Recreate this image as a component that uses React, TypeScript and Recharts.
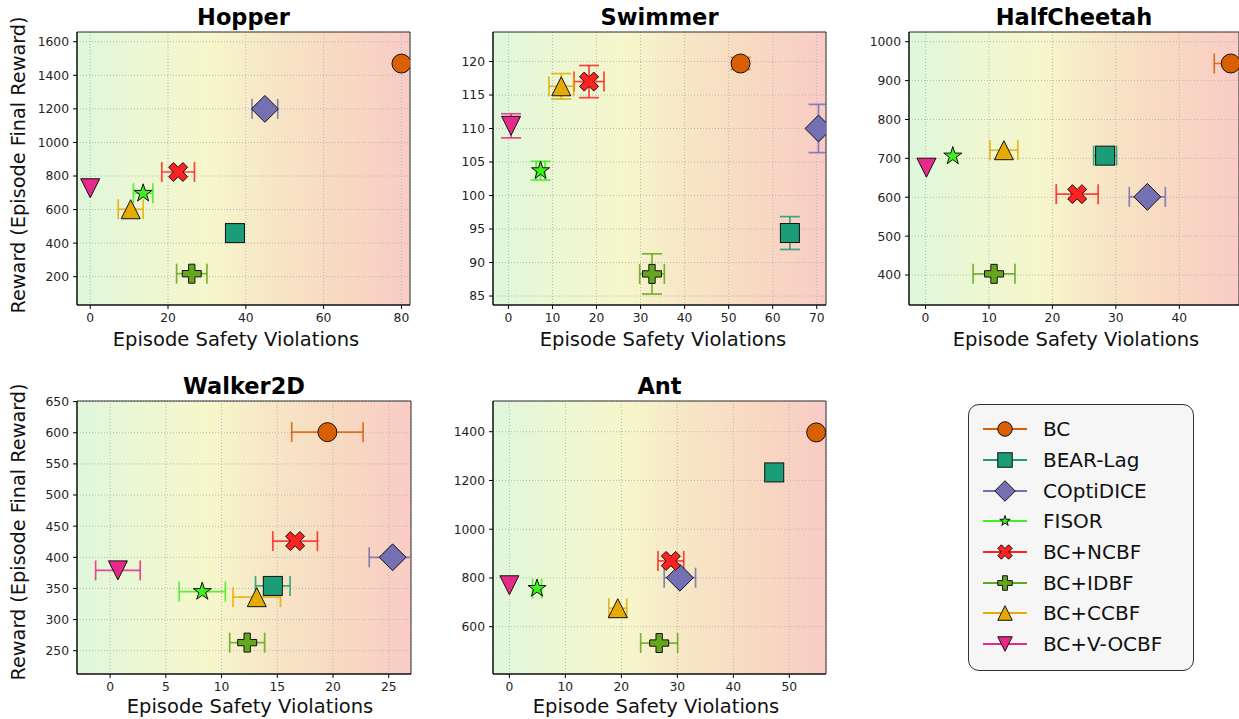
import React from 'react';
import { ScatterChart, Scatter, XAxis, YAxis, CartesianGrid, ErrorBar, ReferenceArea } from 'recharts';

const FONT = '"DejaVu Sans", sans-serif';

const methods = ['BC', 'BEAR-Lag', 'COptiDICE', 'FISOR', 'BC+NCBF', 'BC+IDBF', 'BC+CCBF', 'BC+V-OCBF'];
const colors = ['#d95f02', '#1b9e77', '#7570b3', '#3ef01e', '#ff2222', '#66a61e', '#e6ab02', '#e7298a'];
const shapes = ['circle', 'square', 'diamond', 'star', 'x', 'plus', 'triUp', 'triDown'];

// Hopper
const hopperX = [80.0, 37.2, 44.9, 13.6, 22.6, 26.1, 10.4, 0.0];
const hopperY = [1470, 460, 1200, 697, 824, 218, 602, 727];
const hopperXErr = [0, 0, 3.3, 2.5, 4.2, 3.9, 3.2, 0];
const hopperYErr = [0, 0, 0, 0, 0, 0, 0, 0];
const hopperXTicks = [0, 20, 40, 60, 80];
const hopperYTicks = [200, 400, 600, 800, 1000, 1200, 1400, 1600];

// Swimmer
const swimmerX = [52.7, 63.9, 70.4, 7.3, 18.3, 32.6, 12.0, 0.6];
const swimmerY = [119.7, 94.4, 110.0, 103.7, 117.0, 88.3, 116.3, 110.4];
const swimmerXErr = [0, 1.2, 0, 1.0, 3.4, 2.8, 2.8, 0];
const swimmerYErr = [0.9, 2.45, 3.6, 1.4, 2.4, 3.0, 1.9, 1.8];
const swimmerXTicks = [0, 10, 20, 30, 40, 50, 60, 70];
const swimmerYTicks = [85, 90, 95, 100, 105, 110, 115, 120];

// HalfCheetah
const cheetahX = [48.1, 28.3, 34.95, 4.3, 23.9, 10.8, 12.35, 0.15];
const cheetahY = [944, 707, 601, 706, 608, 403, 721, 676];
const cheetahXErr = [2.6, 1.8, 2.84, 0, 3.3, 3.3, 2.2, 0];
const cheetahYErr = [0, 0, 0, 0, 0, 0, 0, 0];
const cheetahXTicks = [0, 10, 20, 30, 40];
const cheetahYTicks = [400, 500, 600, 700, 800, 900, 1000];

// Walker2D
const walkerX = [19.5, 14.6, 25.35, 8.27, 16.6, 12.3, 13.16, 0.7];
const walkerY = [601, 354, 400, 345, 426, 263, 336, 379];
const walkerXErr = [3.2, 1.55, 2.1, 2.07, 2.0, 1.57, 2.13, 2.0];
const walkerYErr = [0, 0, 0, 0, 0, 0, 0, 0];
const walkerXTicks = [0, 5, 10, 15, 20, 25];
const walkerYTicks = [250, 300, 350, 400, 450, 500, 550, 600, 650];

// Ant
const antX = [54.8, 47.3, 30.45, 4.94, 28.84, 26.75, 19.36, 0.0];
const antY = [1397, 1233, 801, 757, 870, 533, 676, 770];
const antXErr = [0, 0, 2.8, 0.8, 2.3, 3.3, 1.6, 0];
const antYErr = [0, 0, 0, 0, 0, 0, 0, 0];
const antXTicks = [0, 10, 20, 30, 40, 50];
const antYTicks = [600, 800, 1000, 1200, 1400];

const bgStops = [
  { o: 0, c: '#dff7dc' },
  { o: 0.2, c: '#ecf7d2' },
  { o: 0.4, c: '#f6f6cb' },
  { o: 0.6, c: '#f7e5c5' },
  { o: 0.8, c: '#f8d8c1' },
  { o: 1, c: '#f9ccc6' },
];

type Cfg = {
  title: string;
  plot: number[];
  xDomain: number[];
  yDomain: number[];
  xTicks: number[];
  yTicks: number[];
  xs: number[];
  ys: number[];
  xe: number[];
  ye: number[];
  xLabelX: number;
  xLabelY: number;
};

const panels: Cfg[] = [
  { title: 'Hopper', plot: [77, 32, 410, 305], xDomain: [-3.4, 82.2], yDomain: [31.5, 1658], xTicks: hopperXTicks, yTicks: hopperYTicks, xs: hopperX, ys: hopperY, xe: hopperXErr, ye: hopperYErr, xLabelX: 236, xLabelY: 340 },
  { title: 'Swimmer', plot: [493, 32, 826, 305], xDomain: [-3.5, 72.1], yDomain: [83.66, 124.4], xTicks: swimmerXTicks, yTicks: swimmerYTicks, xs: swimmerX, ys: swimmerY, xe: swimmerXErr, ye: swimmerYErr, xLabelX: 663, xLabelY: 340 },
  { title: 'HalfCheetah', plot: [909, 32, 1239, 305], xDomain: [-2.6, 49.4], yDomain: [322.9, 1025], xTicks: cheetahXTicks, yTicks: cheetahYTicks, xs: cheetahX, ys: cheetahY, xe: cheetahXErr, ye: cheetahYErr, xLabelX: 1076, xLabelY: 340 },
  { title: 'Walker2D', plot: [77, 401, 411, 674], xDomain: [-2.97, 27.0], yDomain: [212.6, 651], xTicks: walkerXTicks, yTicks: walkerYTicks, xs: walkerX, ys: walkerY, xe: walkerXErr, ye: walkerYErr, xLabelX: 250, xLabelY: 706.5 },
  { title: 'Ant', plot: [493, 401, 826, 674], xDomain: [-2.93, 56.55], yDomain: [406, 1526], xTicks: antXTicks, yTicks: antYTicks, xs: antX, ys: antY, xe: antXErr, ye: antYErr, xLabelX: 656, xLabelY: 706.5 },
];

function MarkerShape({ kind, cx, cy, s, fill, clip }: { kind: string; cx: number; cy: number; s: number; fill: string; clip?: string }) {
  const h = s / 2;
  const common: any = { fill, stroke: '#111', strokeWidth: 1, strokeLinejoin: 'miter' };
  if (clip) common.clipPath = clip;
  const poly = (pts: number[][]) => pts.map((p) => `${cx + p[0]},${cy + p[1]}`).join(' ');
  switch (kind) {
    case 'circle':
      return <circle cx={cx} cy={cy} r={h} {...common} />;
    case 'square':
      return <rect x={cx - h} y={cy - h} width={s} height={s} {...common} />;
    case 'diamond': {
      const d = s * 0.707;
      return <polygon points={poly([[0, -d], [d, 0], [0, d], [-d, 0]])} {...common} />;
    }
    case 'star': {
      const pts: number[][] = [];
      for (let k = 0; k < 10; k++) {
        const r = k % 2 === 0 ? h : h * 0.381966;
        const a = (-90 + k * 36) * (Math.PI / 180);
        pts.push([r * Math.cos(a), r * Math.sin(a)]);
      }
      return <polygon points={poly(pts)} {...common} />;
    }
    case 'plus':
    case 'x': {
      const base = [[-1, -3], [1, -3], [1, -1], [3, -1], [3, 1], [1, 1], [1, 3], [-1, 3], [-1, 1], [-3, 1], [-3, -1], [-1, -1]];
      const u = s / 6;
      let pts = base.map((p) => [p[0] * u, p[1] * u]);
      if (kind === 'x') {
        const c = Math.SQRT1_2;
        pts = pts.map((p) => [(p[0] - p[1]) * c * 1.06, (p[0] + p[1]) * c * 1.06]);
      }
      return <polygon points={poly(pts)} {...common} />;
    }
    case 'triUp':
      return <polygon points={poly([[0, -h], [-h, h], [h, h]])} {...common} />;
    case 'triDown':
      return <polygon points={poly([[0, h], [-h, -h], [h, -h]])} {...common} />;
    default:
      return null;
  }
}

const ML = 60, MT = 10, MR = 10, MB = 30, YW = 50, XH = 25;

function Panel({ cfg, idx }: { cfg: Cfg; idx: number }) {
  const [px0, py0, px1, py1] = cfg.plot;
  const left = px0 - ML;
  const top = py0 - MT;
  const width = px1 - px0 + ML + MR;
  const height = py1 - py0 + MT + MB;
  const gid = `bggrad${idx}`;
  const cid = `plotclip${idx}`;
  const clip = `url(#${cid})`;
  const tickStyle = { fill: '#222', fontSize: 12.3, fontFamily: FONT };
  return (
    <>
      <div style={{ position: 'absolute', left, top, width, height }}>
        <ScatterChart width={width} height={height} margin={{ left: ML - YW, top: MT, right: MR, bottom: MB - XH }}>
          <defs>
            <linearGradient id={gid} x1="0" y1="0" x2="1" y2="0">
              {bgStops.map((st) => (
                <stop key={st.o} offset={st.o} stopColor={st.c} />
              ))}
            </linearGradient>
            <clipPath id={cid}>
              <rect x={ML} y={MT} width={px1 - px0} height={py1 - py0} />
            </clipPath>
          </defs>
          <CartesianGrid fill={`url(#${gid})`} fillOpacity={1} stroke="#b8b8b8" strokeDasharray="1 2" strokeWidth={1} />
          <XAxis
            type="number"
            dataKey="x"
            domain={cfg.xDomain}
            ticks={cfg.xTicks}
            interval={0}
            allowDataOverflow
            height={XH}
            tickSize={4}
            tickMargin={4}
            stroke="#000"
            tick={tickStyle}
          />
          <YAxis
            type="number"
            dataKey="y"
            domain={cfg.yDomain}
            ticks={cfg.yTicks}
            interval={0}
            allowDataOverflow
            width={YW}
            tickSize={4}
            tickMargin={4}
            stroke="#000"
            tick={tickStyle}
          />
          <ReferenceArea x1={cfg.xDomain[0]} x2={cfg.xDomain[1]} y1={cfg.yDomain[0]} y2={cfg.yDomain[1]} fill="none" fillOpacity={0} stroke="#333" strokeWidth={1} />
          {methods.map((m, i) => (
            <Scatter
              key={m}
              name={m}
              data={[{ x: cfg.xs[i], y: cfg.ys[i], xerr: cfg.xe[i], yerr: cfg.ye[i] }]}
              fill={colors[i]}
              isAnimationActive={false}
              shape={(p: any) => <MarkerShape kind={shapes[i]} cx={p.cx} cy={p.cy} s={19} fill={colors[i]} clip={clip} />}
            >
              {cfg.xe[i] > 0 && <ErrorBar dataKey="xerr" direction="x" width={10} stroke={colors[i]} strokeWidth={1.7} strokeOpacity={0.85} clipPath={clip} />}
              {cfg.ye[i] > 0 && <ErrorBar dataKey="yerr" direction="y" width={10} stroke={colors[i]} strokeWidth={1.7} strokeOpacity={0.85} clipPath={clip} />}
            </Scatter>
          ))}
        </ScatterChart>
      </div>
      <div
        style={{
          position: 'absolute',
          left: (px0 + px1) / 2,
          top: py0 - 15,
          transform: 'translate(-50%, -50%)',
          fontFamily: FONT,
          fontWeight: 'bold',
          fontSize: 22.5,
          color: '#000',
          whiteSpace: 'nowrap',
          lineHeight: 1,
        }}
      >
        {cfg.title}
      </div>
      <div
        style={{
          position: 'absolute',
          left: cfg.xLabelX,
          top: cfg.xLabelY,
          transform: 'translate(-50%, -50%)',
          fontFamily: FONT,
          fontSize: 19.5,
          color: '#111',
          whiteSpace: 'nowrap',
          lineHeight: 1,
        }}
      >
        Episode Safety Violations
      </div>
    </>
  );
}

function YLabel({ cy }: { cy: number }) {
  return (
    <div
      style={{
        position: 'absolute',
        left: 19,
        top: cy,
        transform: 'translate(-50%, -50%) rotate(-90deg)',
        fontFamily: FONT,
        fontSize: 19.3,
        color: '#111',
        whiteSpace: 'nowrap',
        lineHeight: 1,
      }}
    >
      Reward (Episode Final Reward)
    </div>
  );
}

function Legend() {
  const rowY0 = 429.3;
  const step = 30.67;
  return (
    <>
      <div
        style={{
          position: 'absolute',
          left: 968,
          top: 404,
          width: 226,
          height: 267,
          border: '1.2px solid #333',
          borderRadius: 11,
          background: '#f6f6f6',
          boxSizing: 'border-box',
        }}
      />
      {methods.map((m, i) => {
        const cy = rowY0 + i * step;
        return (
          <React.Fragment key={m}>
            <svg style={{ position: 'absolute', left: 980, top: cy - 12, width: 50, height: 24, overflow: 'visible' }}>
              <line x1={3} y1={12} x2={47} y2={12} stroke={colors[i]} strokeWidth={2} />
              <MarkerShape kind={shapes[i]} cx={25} cy={12} s={i === 3 ? 11 : 14.5} fill={colors[i]} />
            </svg>
            <div
              style={{
                position: 'absolute',
                left: 1043,
                top: cy,
                transform: 'translateY(-50%)',
                fontFamily: FONT,
                fontSize: 20,
                color: '#111',
                whiteSpace: 'nowrap',
                lineHeight: 1,
              }}
            >
              {m}
            </div>
          </React.Fragment>
        );
      })}
    </>
  );
}

export default function App() {
  return (
    <div style={{ position: 'absolute', left: 0, top: 0, width: 1239, height: 719, overflow: 'hidden', background: '#fff' }}>
      {panels.map((p, i) => (
        <Panel key={p.title} cfg={p} idx={i} />
      ))}
      <YLabel cy={165} />
      <YLabel cy={532} />
      <Legend />
    </div>
  );
}
